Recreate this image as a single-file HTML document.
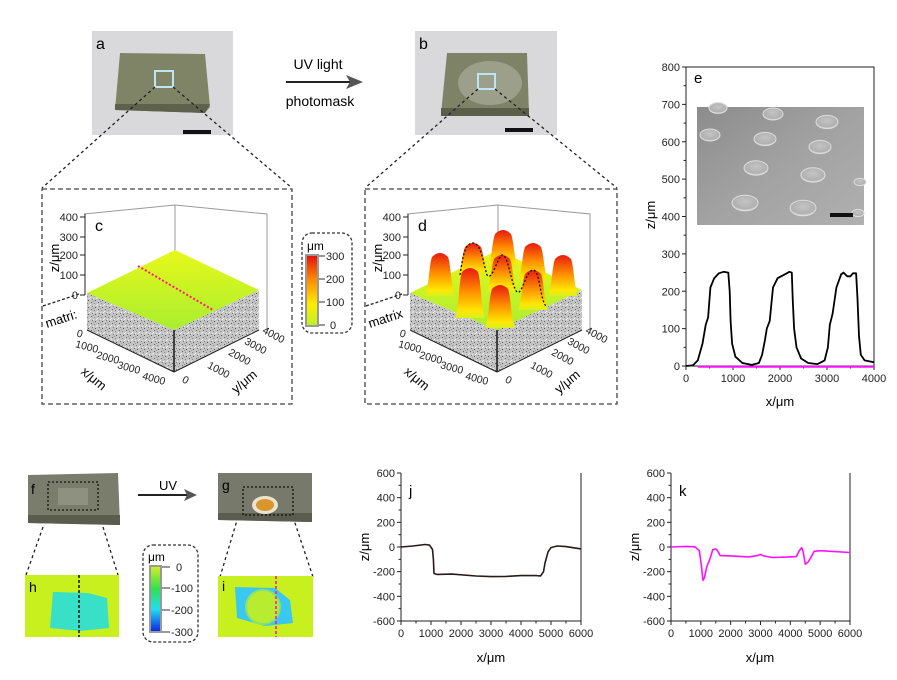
<!DOCTYPE html>
<html><head><meta charset="utf-8"><style>
html,body{margin:0;padding:0;background:#fff;}
svg{display:block;font-family:"Liberation Sans",Arial,sans-serif;}
</style></head><body>
<svg id="fig" width="897" height="680" viewBox="0 0 897 680" xmlns="http://www.w3.org/2000/svg">
<defs>
<pattern id="speck" width="7" height="7" patternUnits="userSpaceOnUse">
<rect width="7" height="7" fill="#c4c4c4"/>
<rect x="1" y="1" width="1" height="1" fill="#666"/><rect x="4" y="2" width="1" height="1" fill="#888"/>
<rect x="2" y="5" width="1" height="1" fill="#777"/><rect x="6" y="4" width="1" height="1" fill="#eee"/>
<rect x="5" y="6" width="1" height="1" fill="#555"/><rect x="0" y="3" width="1" height="1" fill="#f2f2f2"/>
<rect x="3" y="0" width="1" height="1" fill="#999"/><rect x="3" y="4" width="1" height="1" fill="#eaeaea"/>
</pattern>
<linearGradient id="peak" x1="0" y1="0" x2="0" y2="1">
<stop offset="0" stop-color="#e81a10"/><stop offset="0.45" stop-color="#ff8a00"/><stop offset="0.85" stop-color="#ffe600"/><stop offset="1" stop-color="#d8f020"/>
</linearGradient>
<linearGradient id="cb1" x1="0" y1="0" x2="0" y2="1">
<stop offset="0" stop-color="#e01010"/><stop offset="0.35" stop-color="#ff8c00"/><stop offset="0.7" stop-color="#ffee00"/><stop offset="1" stop-color="#b8f028"/>
</linearGradient>
<linearGradient id="cb2" x1="0" y1="0" x2="0" y2="1">
<stop offset="0" stop-color="#d4f020"/><stop offset="0.35" stop-color="#30e050"/><stop offset="0.65" stop-color="#20e0f0"/><stop offset="1" stop-color="#1020e0"/>
</linearGradient>
<linearGradient id="face" x1="0" y1="0" x2="0" y2="1">
<stop offset="0" stop-color="#e8f81a"/><stop offset="1" stop-color="#a8ee30"/>
</linearGradient>
<linearGradient id="sem" x1="0" y1="0" x2="1" y2="1">
<stop offset="0" stop-color="#8c8c8c"/><stop offset="0.5" stop-color="#a2a2a2"/><stop offset="1" stop-color="#b0b0b0"/>
</linearGradient>
<radialGradient id="bump" cx="0.5" cy="0.4" r="0.6">
<stop offset="0" stop-color="#c4c4c4"/><stop offset="0.8" stop-color="#b0b0b0"/><stop offset="1" stop-color="#e8e8e8"/>
</radialGradient>
</defs>

<g>
<rect x="92" y="31" width="141" height="104" fill="#d9d9db"/>
<polygon points="120,53 205,54 210,107 205,113 115,110" fill="#7f8466"/>
<polygon points="115,104 210,104 205,113 115,110" fill="#5e624c"/>
<rect x="155" y="71" width="18" height="16" fill="none" stroke="#bfe4f2" stroke-width="2"/>
<rect x="183" y="130" width="28" height="4" fill="#111"/>
<text x="96" y="49" font-size="16">a</text>
</g>
<g>
<rect x="415" y="31" width="142" height="104" fill="#d9d9db"/>
<polygon points="447,53 527,53 529,114 441,114" fill="#7e8267"/>
<polygon points="441,108 529,108 529,116 441,116" fill="#5b5f4a"/>
<ellipse cx="490" cy="83" rx="32" ry="22" fill="#a9ab98" opacity="0.7"/>
<rect x="478" y="74" width="17" height="15" fill="none" stroke="#bfe4f2" stroke-width="2"/>
<rect x="505" y="128" width="28" height="4" fill="#111"/>
<text x="419" y="49" font-size="16">b</text>
</g>
<g>
<text x="318" y="69" font-size="14" text-anchor="middle">UV light</text>
<line x1="286" y1="82" x2="352" y2="82" stroke="#222" stroke-width="2"/>
<polygon points="363,82 346,75 350,82 346,89" fill="#555"/>
<text x="320" y="106" font-size="14" text-anchor="middle">photomask</text>
</g>
<g stroke="#222" stroke-dasharray="3,3" stroke-width="1.3" fill="none">
<line x1="155" y1="87" x2="42" y2="188"/><line x1="173" y1="87" x2="292" y2="188"/>
<line x1="478" y1="89" x2="365" y2="188"/><line x1="495" y1="89" x2="617" y2="188"/>
<line x1="43" y1="527" x2="26" y2="575"/><line x1="103" y1="527" x2="118" y2="575"/>
<line x1="238" y1="517" x2="220" y2="577"/><line x1="293" y1="517" x2="313" y2="577"/>
</g>
<rect x="42" y="189" width="250" height="215" fill="none" stroke="#444" stroke-dasharray="5,3" stroke-width="1.3"/>
<rect x="365" y="189" width="252" height="215" fill="none" stroke="#444" stroke-dasharray="5,3" stroke-width="1.3"/>

<g id="p3d-c" transform="translate(-323,0)"></g>
<g id="p3d-d"></g>

<g>
<rect x="302" y="233" width="50" height="100" rx="10" fill="none" stroke="#333" stroke-dasharray="3,2" stroke-width="1.3"/>
<rect x="306" y="255" width="12" height="71" fill="url(#cb1)" stroke="#999" stroke-width="2"/>
<text x="307" y="250" font-size="12">μm</text>
<g stroke="#999" stroke-width="2"><line x1="318" y1="256" x2="325" y2="256"/><line x1="318" y1="279" x2="325" y2="279"/><line x1="318" y1="302" x2="325" y2="302"/><line x1="318" y1="325" x2="325" y2="325"/></g>
<g font-size="11" fill="#222"><text x="326" y="260">300</text><text x="326" y="283">200</text><text x="326" y="306">100</text><text x="330" y="329">0</text></g>
</g>

<g id="chart-e">
<g>
<rect x="697" y="107" width="167" height="118" fill="url(#sem)"/>
<g id="bumps"></g>
<rect x="830" y="213" width="23" height="4" fill="#111"/>
</g>
<text x="694" y="83" font-size="15">e</text>
<text transform="translate(655,215) rotate(-90)" font-size="13" text-anchor="middle">z/μm</text>
<text x="780" y="406" font-size="13" text-anchor="middle">x/μm</text>
</g>
<g id="chart-j">
<text x="409" y="496" font-size="15">j</text>
<text transform="translate(369,547) rotate(-90)" font-size="13" text-anchor="middle">z/μm</text>
<text x="491" y="662" font-size="13" text-anchor="middle">x/μm</text>
</g>
<g id="chart-k">
<text x="679" y="496" font-size="15">k</text>
<text transform="translate(639,547) rotate(-90)" font-size="13" text-anchor="middle">z/μm</text>
<text x="760" y="662" font-size="13" text-anchor="middle">x/μm</text>
</g>

<g>
<polygon points="28,475 118,473 120,525 28,523" fill="#7a7c6c"/>
<polygon points="28,515 120,515 120,525 28,523" fill="#5a5c4e"/>
<rect x="58" y="488" width="30" height="17" fill="#8e9080"/>
<rect x="48" y="482" width="50" height="28" fill="none" stroke="#111" stroke-dasharray="2,2" stroke-width="1.3"/>
<text x="31" y="494" font-size="14">f</text>
</g>
<g>
<text x="168" y="490" font-size="13" text-anchor="middle">UV</text>
<line x1="138" y1="495" x2="190" y2="495" stroke="#222" stroke-width="2"/>
<polygon points="197,495 184,489 187,495 184,501" fill="#555"/>
</g>
<g>
<polygon points="218,473 312,473 312,522 218,520" fill="#77796a"/>
<polygon points="218,513 312,513 312,522 218,520" fill="#5a5c4e"/>
<ellipse cx="265" cy="505" rx="13" ry="9" fill="#e8e4d0"/>
<ellipse cx="265" cy="505" rx="9" ry="6" fill="#d8962c"/>
<rect x="243" y="487" width="50" height="28" fill="none" stroke="#111" stroke-dasharray="2,2" stroke-width="1.3"/>
<text x="222" y="490" font-size="14">g</text>
</g>
<g>
<rect x="25" y="575" width="94" height="62" fill="#c8f01e"/>
<polygon points="53,592 88,593 107,598 109,628 80,631 50,628" fill="#38e0c8"/>
<line x1="79" y1="575" x2="79" y2="637" stroke="#111" stroke-dasharray="3,2" stroke-width="1.5"/>
<text x="29" y="592" font-size="14">h</text>
</g>
<g>
<rect x="218" y="576" width="95" height="61" fill="#c8f01e"/>
<polygon points="235,587 275,588 290,600 293,623 265,626 237,618" fill="#38c8f0"/>
<circle cx="263" cy="607" r="17" fill="#b8ec30" stroke="#88e070" stroke-width="2"/>
<line x1="276" y1="576" x2="276" y2="637" stroke="#ff1aa0" stroke-dasharray="3,2" stroke-width="1.6"/>
<text x="222" y="591" font-size="14">i</text>
</g>
<g>
<rect x="143" y="545" width="55" height="97" rx="10" fill="none" stroke="#333" stroke-dasharray="3,2" stroke-width="1.3"/>
<rect x="150" y="566" width="11" height="66" fill="url(#cb2)" stroke="#999" stroke-width="2"/>
<text x="148" y="561" font-size="12">μm</text>
<g stroke="#999" stroke-width="2"><line x1="161" y1="567" x2="170" y2="567"/><line x1="161" y1="588" x2="170" y2="588"/><line x1="161" y1="610" x2="170" y2="610"/><line x1="161" y1="632" x2="170" y2="632"/></g>
<g font-size="11" fill="#222"><text x="176" y="571">0</text><text x="171" y="592">-100</text><text x="171" y="614">-200</text><text x="171" y="636">-300</text></g>
</g>
</svg>
<script>
const eX = [0,150,250,350,420,470,520,600,700,800,900,930,950,980,1050,1200,1400,1550,1620,1680,1720,1780,1850,1950,2100,2200,2250,2270,2300,2350,2450,2600,2800,2950,3020,3060,3120,3200,3300,3350,3430,3500,3550,3620,3650,3680,3720,3800,4000];
const eZ = [0,2,15,60,110,130,210,235,248,252,250,200,120,60,25,8,3,8,30,70,100,120,210,235,245,252,250,180,100,50,20,8,5,15,50,110,140,210,245,250,240,240,248,248,180,80,30,15,10];
const eMagX = [250,4000];
const eMagZ = [-2,-2];
const eXTicks = [0,1000,2000,3000,4000];
const eYTicks = [0,100,200,300,400,500,600,700,800];
const jX = [0,400,800,950,1050,1080,1100,1200,1700,2500,3000,3500,4000,4500,4650,4750,4800,4900,5000,5200,5500,6000];
const jZ = [0,8,20,15,-20,-100,-215,-222,-220,-235,-240,-238,-232,-232,-235,-200,-130,-40,-5,8,3,-15];
const kX = [0,500,800,950,1020,1070,1120,1200,1300,1400,1500,1560,1650,2000,2600,2900,3000,3100,3400,4000,4200,4300,4380,4430,4500,4600,4700,4800,5000,6000];
const kZ = [0,5,2,-30,-150,-270,-250,-160,-100,-20,-15,-30,-70,-72,-80,-70,-60,-72,-85,-80,-78,-30,-5,-40,-140,-120,-80,-35,-30,-45];
const jkXTicks = [0,1000,2000,3000,4000,5000,6000];
const jkYTicks = [-600,-400,-200,0,200,400,600];

const NS = 'http://www.w3.org/2000/svg';
function mk(tag, attrs, parent){const e=document.createElementNS(NS,tag);for(const k in attrs)e.setAttribute(k,attrs[k]);parent.appendChild(e);return e;}

function drawAxes(g, sx, sy, x0,x1,y0,y1, xt, yt, frame){
  if(frame){
    const r=mk('rect',{x:x0,y:y1,width:x1-x0,height:y0-y1,fill:'none',stroke:'#222','stroke-width':1},g);
    
    
  } else {
    const l=mk('path',{d:`M${x0},${y1}V${y0}H${x1}V${y1}`,fill:'none',stroke:'#222','stroke-width':1},g);
    
    
  }
  xt.forEach((v,i)=>{
    const x=sx(v);
    mk('line',{x1:x,y1:y0,x2:x,y2:y0+4,stroke:'#222'},g);
    if(i<xt.length-1){const xm=(x+sx(xt[i+1]))/2;mk('line',{x1:xm,y1:y0,x2:xm,y2:y0+2.5,stroke:'#222'},g);}
    const t=mk('text',{x:x,y:y0+16,'font-size':11,'text-anchor':'middle',fill:'#222'},g);
    t.textContent=v;
    
    
  });
  yt.forEach((v,i)=>{
    const y=sy(v);
    mk('line',{x1:x0,y1:y,x2:x0-4,y2:y,stroke:'#222'},g);
    if(i<yt.length-1){const ym=(y+sy(yt[i+1]))/2;mk('line',{x1:x0,y1:ym,x2:x0-2.5,y2:ym,stroke:'#222'},g);}
    const t=mk('text',{x:x0-6,y:y+4,'font-size':11,'text-anchor':'end',fill:'#222'},g);
    t.textContent=v;
    
    
  });
}
function line(g, xs, ys, sx, sy, color, w, name){
  const d=xs.map((v,i)=>(i?'L':'M')+sx(v).toFixed(1)+','+sy(ys[i]).toFixed(1)).join('');
  const p=mk('path',{d:d,fill:'none',stroke:color,'stroke-width':w,'stroke-linejoin':'round'},g);
  
  
}

(function(){
  const g=document.getElementById('chart-e');
  const sx=v=>686+v/4000*188, sy=v=>366-v/800*299;
  drawAxes(g,sx,sy,686,874,366,67,eXTicks,eYTicks,true);
  line(g,eMagX,eMagZ,sx,sy,'#ff10ff',2,'series-magenta');
  line(g,eX,eZ,sx,sy,'#000',1.8,'series-profile');
})();
(function(){
  const g=document.getElementById('chart-j');
  const sx=v=>401+v/6000*180, sy=v=>547-v/600*74;
  drawAxes(g,sx,sy,401,581,621,473,jkXTicks,jkYTicks,false);
  line(g,jX,jZ,sx,sy,'#2a1a1a',1.6,'series-before-uv');
})();
(function(){
  const g=document.getElementById('chart-k');
  const sx=v=>671+v/6000*179, sy=v=>547-v/600*74;
  drawAxes(g,sx,sy,671,850,621,473,jkXTicks,jkYTicks,false);
  line(g,kX,kZ,sx,sy,'#ff10ff',1.6,'series-after-uv');
})();

(function(){
  const g=document.getElementById('bumps');
  const pts=[[718,108,9],[773,114,10],[827,122,11],[710,135,10],[765,139,11],[820,147,11],[756,168,12],[813,175,12],[860,182,6],[745,203,13],[803,208,13],[858,213,6]];
  pts.forEach(p=>{
    const e=mk('ellipse',{cx:p[0],cy:p[1],rx:p[2],ry:p[2]*0.6,fill:'url(#bump)',stroke:'#ddd','stroke-width':1},g);
    
    
  });
})();

function draw3D(id, withPeaks, label){
  const g=document.getElementById(id);
  mk('path',{d:'M407,214 L498,205 L590,214 V333',fill:'none',stroke:'#999','stroke-width':1},g);
  mk('line',{x1:498,y1:205,x2:498,y2:262,stroke:'#999'},g);
  const l=mk('polygon',{points:'410,293 497,330 497,372 410,330',fill:'url(#speck)'},g);
  
  
  const r=mk('polygon',{points:'497,330 582,290 582,330 497,372',fill:'url(#speck)'},g);
  
  
  mk('line',{x1:497,y1:330,x2:497,y2:372,stroke:'#111','stroke-width':1.5},g);
  const top=mk('polygon',{points:'410,293 498,250 582,290 497,330',fill:'url(#face)'},g);
  
  
  mk('line',{x1:408,y1:214,x2:408,y2:295,stroke:'#222'},g);
  [[400,217],[300,237],[200,255],[100,275],[0,295]].forEach(a=>{
    mk('line',{x1:408,y1:a[1],x2:403,y2:a[1],stroke:'#222'},g);
    const t=mk('text',{x:401,y:a[1]+4,'font-size':11,'text-anchor':'end',fill:'#222'},g);t.textContent=a[0];
  });
  const zt=mk('text',{transform:'translate(382,258) rotate(-90)','font-size':13,'text-anchor':'middle'},g);zt.textContent='z/μm';
  mk('line',{x1:366,y1:306,x2:402,y2:294,stroke:'#222','stroke-dasharray':'3,2','stroke-width':1.3},g);
  const mt=mk('text',{transform:'translate(370,328) rotate(-18)','font-size':13},g);mt.textContent=label;
  mk('line',{x1:410,y1:330,x2:497,y2:372,stroke:'#222'},g);
  mk('line',{x1:497,y1:372,x2:582,y2:330,stroke:'#222'},g);
  [['0',402,337],['1000',409,350],['2000',430,361],['3000',451,371],['4000',476,382]].forEach(a=>{
    const t=mk('text',{transform:`translate(${a[1]},${a[2]}) rotate(15)`,'font-size':10.5,'text-anchor':'middle',fill:'#222'},g);t.textContent=a[0];
  });
  [['0',507,383],['1000',540,373],['2000',561,360],['3000',577,349],['4000',595,338]].forEach(a=>{
    const t=mk('text',{transform:`translate(${a[1]},${a[2]}) rotate(28)`,'font-size':10.5,'text-anchor':'middle',fill:'#222'},g);t.textContent=a[0];
  });
  const xt=mk('text',{transform:'translate(414,382) rotate(40)','font-size':13,'text-anchor':'middle'},g);xt.textContent='x/μm';
  const yt=mk('text',{transform:'translate(570,385) rotate(-40)','font-size':13,'text-anchor':'middle'},g);yt.textContent='y/μm';
  const pl=mk('text',{x:418,y:231,'font-size':16},g);pl.textContent=withPeaks?'d':'c';
  if(withPeaks){
    const peaks=[[503,230,268],[473,243,275],[533,243,282],[440,253,296],[563,255,296],[502,255,292],[470,268,318],[533,270,310],[500,285,328]];
    peaks.forEach(p=>{
      const x=p[0],t=p[1],b=p[2],w=15;
      const d=`M${x-w},${b} C${x-w+4},${b-10} ${x-11},${t+12} ${x-8},${t+4} Q${x},${t-4} ${x+8},${t+4} C${x+11},${t+12} ${x+w-4},${b-10} ${x+w},${b} Z`;
      const pe=mk('path',{d:d,fill:'url(#peak)'},g);
      
      
    });
    mk('path',{d:'M460,275 C463,255 465,243 473,243 C481,243 483,262 487,275 C492,282 497,258 502,255 C508,253 511,285 517,292 C522,296 526,270 533,270 C540,270 540,300 546,306',fill:'none',stroke:'#111','stroke-dasharray':'2,2','stroke-width':1.3},g);
  } else {
    mk('line',{x1:461,y1:266,x2:536,y2:310,stroke:'#ff1a80','stroke-dasharray':'2,2','stroke-width':2},g);
  }
}
draw3D('p3d-c', false, 'matri:');
draw3D('p3d-d', true, 'matrix');
</script>
</body></html>
